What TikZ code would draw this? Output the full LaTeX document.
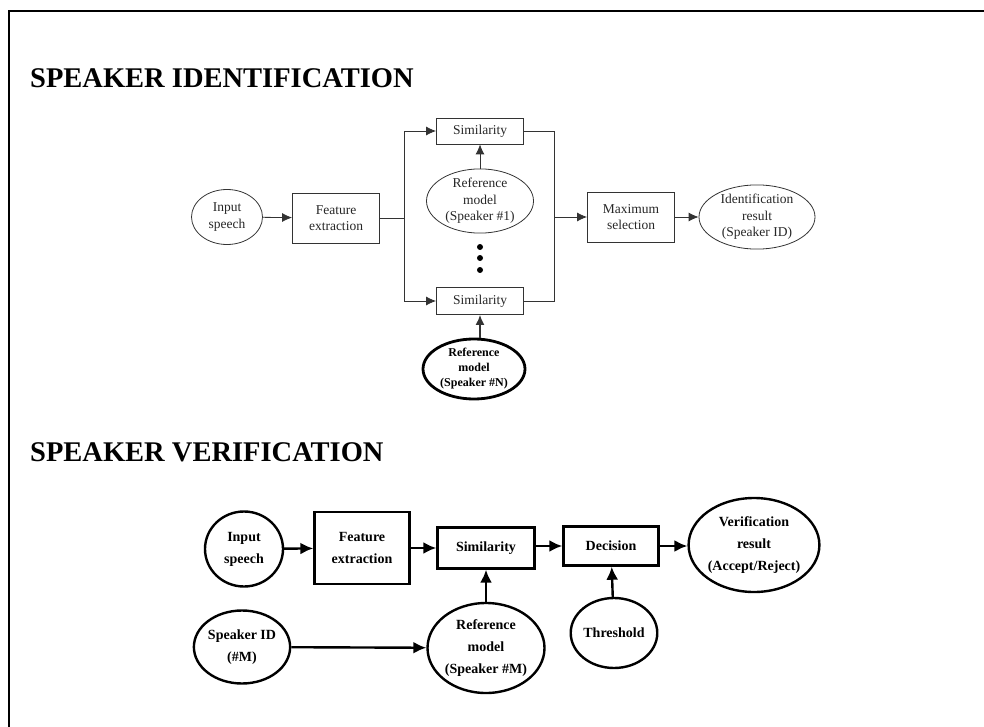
\documentclass[tikz,border=0pt]{standalone}
\usepackage{fontspec}
\setmainfont{Liberation Serif}
\usetikzlibrary{shapes.geometric,arrows.meta}
\begin{document}
\begin{tikzpicture}[x=1pt,y=-1pt,
  idbox/.style={draw=black!80,line width=0.8pt,rectangle,inner sep=0pt,align=center,text=black!85,font=\fontsize{13.5}{16.5}\selectfont},
  idell/.style={draw=black!80,line width=0.8pt,ellipse,inner sep=0pt,align=center,text=black!85,font=\fontsize{13.5}{16.5}\selectfont},
  idarr/.style={draw=black!80,line width=0.8pt,-{Latex[length=10pt,width=9pt]}},
  idline/.style={draw=black!80,line width=0.8pt},
  vbox/.style={draw=black,line width=2.4pt,rectangle,inner sep=0pt,align=center,font=\bfseries\fontsize{14}{22}\selectfont},
  vell/.style={draw=black,line width=2.4pt,ellipse,inner sep=0pt,align=center,font=\bfseries\fontsize{14}{22}\selectfont},
  varr/.style={draw=black,line width=2.4pt,-{Latex[length=13pt,width=12pt]}},
  title/.style={anchor=base west,inner sep=0pt,font=\bfseries\fontsize{28.5}{34}\selectfont}]
\useasboundingbox (0,0) rectangle (984,727);
% frame
\draw[line width=2.6pt] (9,727) -- (9,11) -- (984,11);
% titles
\node[title] (t1) at (30,88) {SPEAKER IDENTIFICATION};
\node[title] (t2) at (30,461) {SPEAKER VERIFICATION};
% ---------- identification ----------
\node[idell,minimum width=71pt,minimum height=55pt] (in1) at (227,217) {Input\\speech};
\node[idbox,minimum width=87pt,minimum height=50pt] (fe1) at (336,218) {Feature\\extraction};
\node[idbox,minimum width=87pt,minimum height=26pt] (s1) at (480,131) {Similarity};
\node[idbox,minimum width=87pt,minimum height=27pt] (sN) at (480,301) {Similarity};
\node[idell,minimum width=107pt,minimum height=63pt] (r1) at (480,201) {Reference\\model\\(Speaker \#1)};
\node[draw=black,line width=2.8pt,ellipse,inner sep=0pt,align=center,font=\bfseries\fontsize{12}{15}\selectfont,minimum width=102pt,minimum height=60pt] (rN) at (474,369) {Reference\\model\\(Speaker \#N)};
\node[idbox,minimum width=87pt,minimum height=50pt] (ms) at (631,217) {Maximum\\selection};
\node[idell,minimum width=116pt,minimum height=61pt] (ir) at (757,217) {Identification\\result\\(Speaker ID)};
\coordinate (bl) at (404,218);
\coordinate (br) at (554,217);
\foreach \yy/\nm in {247/d1,258/d2,270/d3}{\fill (480,\yy) circle (3pt) coordinate (\nm);}
\draw[idarr] (in1) -- (fe1);
\draw[idline] (fe1.east) -- (bl);
\draw[idarr] (bl) |- (s1.west);
\draw[idarr] (bl) |- (sN.west);
\draw[idline] (s1.east) -| (br);
\draw[idline] (sN.east) -| (br);
\draw[idarr] (br) -- (ms.west);
\draw[idarr] (ms) -- (ir);
\draw[idarr] (r1) -- (s1);
\draw[idarr,line width=1.6pt] (rN.north -| sN.south) -- (sN.south);
% ---------- verification ----------
\node[vell,minimum width=78pt,minimum height=75pt] (in2) at (244,549) {Input\\speech};
\node[vbox,minimum width=95pt,minimum height=72pt] (fe2) at (362,548) {Feature\\extraction};
\node[vbox,minimum width=97pt,minimum height=41pt] (s2) at (486,548) {Similarity};
\node[vbox,minimum width=95pt,minimum height=39pt] (de) at (611,546) {Decision};
\node[vell,minimum width=126pt,minimum height=94pt] (vr) at (754,545) {Verification\\result\\(Accept/Reject)};
\node[vell,minimum width=117pt,minimum height=90pt] (rM) at (486,648) {Reference\\model\\(Speaker \#M)};
\node[vell,minimum width=91pt,minimum height=73pt] (sid) at (242,647) {Speaker ID\\(\#M)};
\node[vell,minimum width=82pt,minimum height=70pt] (th) at (614,633) {Threshold};
\draw[varr] (in2) -- (fe2);
\draw[varr] (fe2.east |- s2.west) -- (s2.west);
\draw[varr] (s2.east |- de.west) -- (de.west);
\draw[varr] (de.east) -- (vr.west |- de.east);
\draw[varr] (rM) -- (s2);
\draw[varr] (th) -- (de);
\draw[varr] (sid) -- (rM);
\end{tikzpicture}
\end{document}
